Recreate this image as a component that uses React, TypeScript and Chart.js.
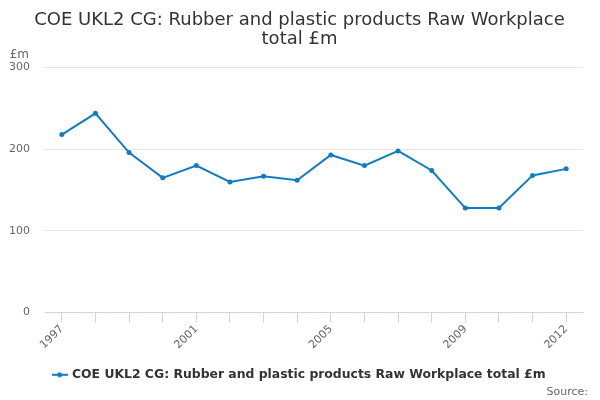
import React, { useEffect, useRef } from "react";
import { Chart, registerables } from "chart.js";

Chart.register(...registerables);

const years = ["1997","1998","1999","2000","2001","2002","2003","2004","2005","2006","2007","2008","2009","2010","2011","2012"];
const values = [218, 244, 196, 165, 180, 160, 167, 162, 193, 180, 198, 174, 128, 128, 168, 176];
const shownYearIdx = [0, 4, 8, 12, 15];
const yTicks = [0, 100, 200, 300];
const seriesName = "COE UKL2 CG: Rubber and plastic products Raw Workplace total £m";
const titleLines = ["COE UKL2 CG: Rubber and plastic products Raw Workplace", "total £m"];
const yTitle = "£m";
const sourceText = "Source:";

const FONT = "'DejaVu Sans', sans-serif";
const BLUE = "#0f7dc2";

function makeLegendIcon(): HTMLCanvasElement {
  const c = document.createElement("canvas");
  c.width = 16;
  c.height = 8;
  const ctx = c.getContext("2d")!;
  ctx.strokeStyle = BLUE;
  ctx.lineWidth = 2;
  ctx.beginPath();
  ctx.moveTo(0, 4);
  ctx.lineTo(16, 4);
  ctx.stroke();
  ctx.fillStyle = BLUE;
  ctx.beginPath();
  ctx.arc(8, 4, 2.5, 0, Math.PI * 2);
  ctx.fill();
  return c;
}

const extraText = {
  id: "extraText",
  afterLayout(chart: any) {
    const shift = 8;
    for (const box of [chart.legend, chart.titleBlock]) {
      if (box) {
        box.left += shift;
        box.right += shift;
      }
    }
  },
  afterDraw(chart: any) {
    const ctx = chart.ctx;
    const area = chart.chartArea;
    ctx.save();
    ctx.fillStyle = "#666666";
    ctx.font = `12px ${FONT}`;
    ctx.textAlign = "right";
    ctx.textBaseline = "alphabetic";
    ctx.fillText(yTitle, 29, area.top - 10);
    ctx.font = `11px ${FONT}`;
    ctx.fillText(sourceText, 588, 395);
    ctx.restore();
  },
};

export default function App() {
  const ref = useRef<HTMLCanvasElement | null>(null);
  useEffect(() => {
    if (!ref.current) return;
    const icon = makeLegendIcon();
    const chart = new Chart(ref.current, {
      type: "line",
      data: {
        labels: years,
        datasets: [
          {
            label: seriesName,
            data: values,
            borderColor: BLUE,
            backgroundColor: BLUE,
            borderWidth: 2,
            pointRadius: 2.5,
            pointStyle: "circle",
            pointBackgroundColor: BLUE,
            pointBorderWidth: 0,
            tension: 0,
          },
        ],
      },
      options: {
        animation: false,
        responsive: false,
        maintainAspectRatio: false,
        layout: { padding: { left: 0, right: 17, top: 0, bottom: 9 } },
        plugins: {
          title: {
            display: true,
            text: titleLines,
            color: "#333333",
            font: { family: FONT, size: 18, weight: "normal", lineHeight: 1.1 },
            padding: { top: 10, bottom: 18 },
          },
          legend: {
            display: true,
            position: "bottom",
            labels: {
              color: "#333333",
              font: { family: FONT, size: 12.4, weight: "bold" },
              usePointStyle: true,
              generateLabels: () => [
                {
                  text: seriesName,
                  pointStyle: icon,
                  fillStyle: BLUE,
                  strokeStyle: BLUE,
                  lineWidth: 0,
                  datasetIndex: 0,
                  hidden: false,
                  fontColor: "#333333",
                },
              ],
              padding: 10,
            },
          },
          tooltip: { enabled: false },
        },
        scales: {
          x: {
            type: "category",
            offset: true,
            grid: {
              display: true,
              drawOnChartArea: false,
              drawTicks: true,
              tickLength: 10,
              color: "#ccd6eb",
              offset: false,
            },
            border: { display: true, color: "#ccd6eb", width: 1 },
            ticks: {
              autoSkip: false,
              maxRotation: 45,
              minRotation: 45,
              color: "#666666",
              font: { family: FONT, size: 11 },
              padding: 0,
              callback: (_v: any, i: number) => (shownYearIdx.includes(i) ? years[i] : ""),
            },
            afterFit: (s: any) => {
              s.height = 46;
            },
          },
          y: {
            min: 0,
            max: 300,
            afterBuildTicks: (s: any) => {
              s.ticks = yTicks.map((v) => ({ value: v }));
            },
            grid: { color: "#e6e6e6", drawTicks: false, lineWidth: 1 },
            border: { display: false },
            ticks: {
              color: "#666666",
              font: { family: FONT, size: 11 },
              padding: 15,
            },
            afterFit: (s: any) => {
              s.width = 45;
            },
          },
        },
      },
      plugins: [extraText],
    });
    return () => chart.destroy();
  }, []);
  return (
    <div style={{ position: "absolute", left: 0, top: 0, width: 600, height: 400, background: "#fff" }}>
      <canvas ref={ref} width={600} height={400} style={{ width: 600, height: 400 }} />
    </div>
  );
}
